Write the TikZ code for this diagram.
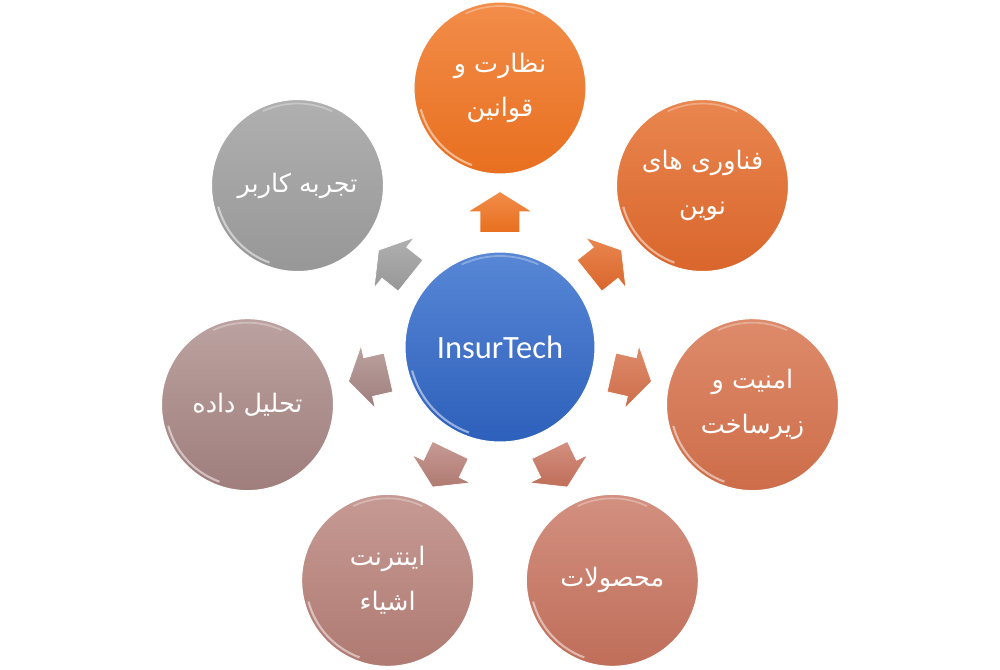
\documentclass[tikz,border=0pt]{standalone}
\usepackage{fontspec}
\setmainfont{Carlito}
\newfontfamily\arabicfont[Script=Arabic]{DejaVu Sans}
\TeXXeTstate=1
\usepackage{xcolor}
\usepackage{tikz}
\usetikzlibrary{shapes.arrows,positioning,calc}

\definecolor{hubTop}{HTML}{5887D6}
\definecolor{hubBot}{HTML}{2D60BB}
\definecolor{orTop}{HTML}{F28D4A}
\definecolor{orBot}{HTML}{E86F1F}
\definecolor{ocTop}{HTML}{E9864F}
\definecolor{ocBot}{HTML}{D9662C}
\definecolor{rtTop}{HTML}{DE8B6B}
\definecolor{rtBot}{HTML}{CD6D49}
\definecolor{brTop}{HTML}{D39080}
\definecolor{brBot}{HTML}{BF6E59}
\definecolor{blTop}{HTML}{C69A94}
\definecolor{blBot}{HTML}{AF7A72}
\definecolor{lfTop}{HTML}{BBA2A0}
\definecolor{lfBot}{HTML}{9F7E7C}
\definecolor{gyTop}{HTML}{B0B0B0}
\definecolor{gyBot}{HTML}{979797}

\newcommand{\fa}[1]{{\arabicfont\beginR #1\endR}}

\begin{document}
\begin{tikzpicture}[
    hub/.style = {circle, minimum size=3.8cm, inner sep=0pt, align=center, text=white, draw=white, line width=0.6pt, font=\fontsize{18.5}{22}\selectfont,
        path picture={\draw[white, line width=1.2pt, opacity=0.5] ([shift={(195:1.82cm)}]path picture bounding box.center) arc[start angle=195, end angle=250, radius=1.82cm];
                      \draw[white, line width=1pt, opacity=0.3] ([shift={(65:1.82cm)}]path picture bounding box.center) arc[start angle=65, end angle=115, radius=1.82cm];}},
    topic/.style = {circle, minimum size=3.44cm, inner sep=0pt, align=center, text=white, draw=white, line width=0.6pt, font=\fontsize{14.5}{25.5}\selectfont,
        path picture={\draw[white, line width=1.2pt, opacity=0.5] ([shift={(195:1.64cm)}]path picture bounding box.center) arc[start angle=195, end angle=250, radius=1.64cm];
                      \draw[white, line width=1pt, opacity=0.3] ([shift={(65:1.64cm)}]path picture bounding box.center) arc[start angle=65, end angle=115, radius=1.64cm];}},
    arrowblk/.style = {single arrow, minimum height=0.82cm, inner xsep=0pt, inner ysep=0.39cm, single arrow head extend=0.25cm, single arrow tip angle=116, draw=white, line width=0.4pt}
]

\useasboundingbox (-10,-6.44) rectangle (10,6.94);

% Center
\node [hub, top color=hubTop, bottom color=hubBot] (c0) at (0,0) {InsurTech};

% Outer circles
\node [topic, top color=orTop, bottom color=orBot] (c1) at (90:5.18) {\fa{نظارت و}\\\fa{قوانین}};
\node [topic, top color=ocTop, bottom color=ocBot] (c2) at (38.57:5.18) {\fa{فناوری های}\\\fa{نوین}};
\node [topic, top color=rtTop, bottom color=rtBot] (c3) at (-12.86:5.18) {\fa{امنیت و}\\\fa{زیرساخت}};
\node [topic, top color=brTop, bottom color=brBot] (c4) at (-64.29:5.18) {\fa{محصولات}};
\node [topic, top color=blTop, bottom color=blBot] (c5) at (-115.71:5.18) {\fa{اینترنت}\\\fa{اشیاء}};
\node [topic, top color=lfTop, bottom color=lfBot] (c6) at (-167.14:5.18) {\fa{تحلیل داده}};
\node [topic, top color=gyTop, bottom color=gyBot] (c7) at (141.43:5.18) {\fa{تجربه کاربر}};

% Arrows
\node [arrowblk, top color=orTop, bottom color=orBot, rotate=90] (a1) at ($(c0)!0.497!(c1)$) {};
\node [arrowblk, top color=ocTop, bottom color=ocBot, rotate=38.57] (a2) at ($(c0)!0.497!(c2)$) {};
\node [arrowblk, top color=rtTop, bottom color=rtBot, rotate=-12.86] (a3) at ($(c0)!0.497!(c3)$) {};
\node [arrowblk, top color=brTop, bottom color=brBot, rotate=-64.29] (a4) at ($(c0)!0.497!(c4)$) {};
\node [arrowblk, top color=blTop, bottom color=blBot, rotate=-115.71] (a5) at ($(c0)!0.497!(c5)$) {};
\node [arrowblk, top color=lfTop, bottom color=lfBot, rotate=-167.14] (a6) at ($(c0)!0.497!(c6)$) {};
\node [arrowblk, top color=gyTop, bottom color=gyBot, rotate=141.43] (a7) at ($(c0)!0.497!(c7)$) {};

\end{tikzpicture}
\end{document}
